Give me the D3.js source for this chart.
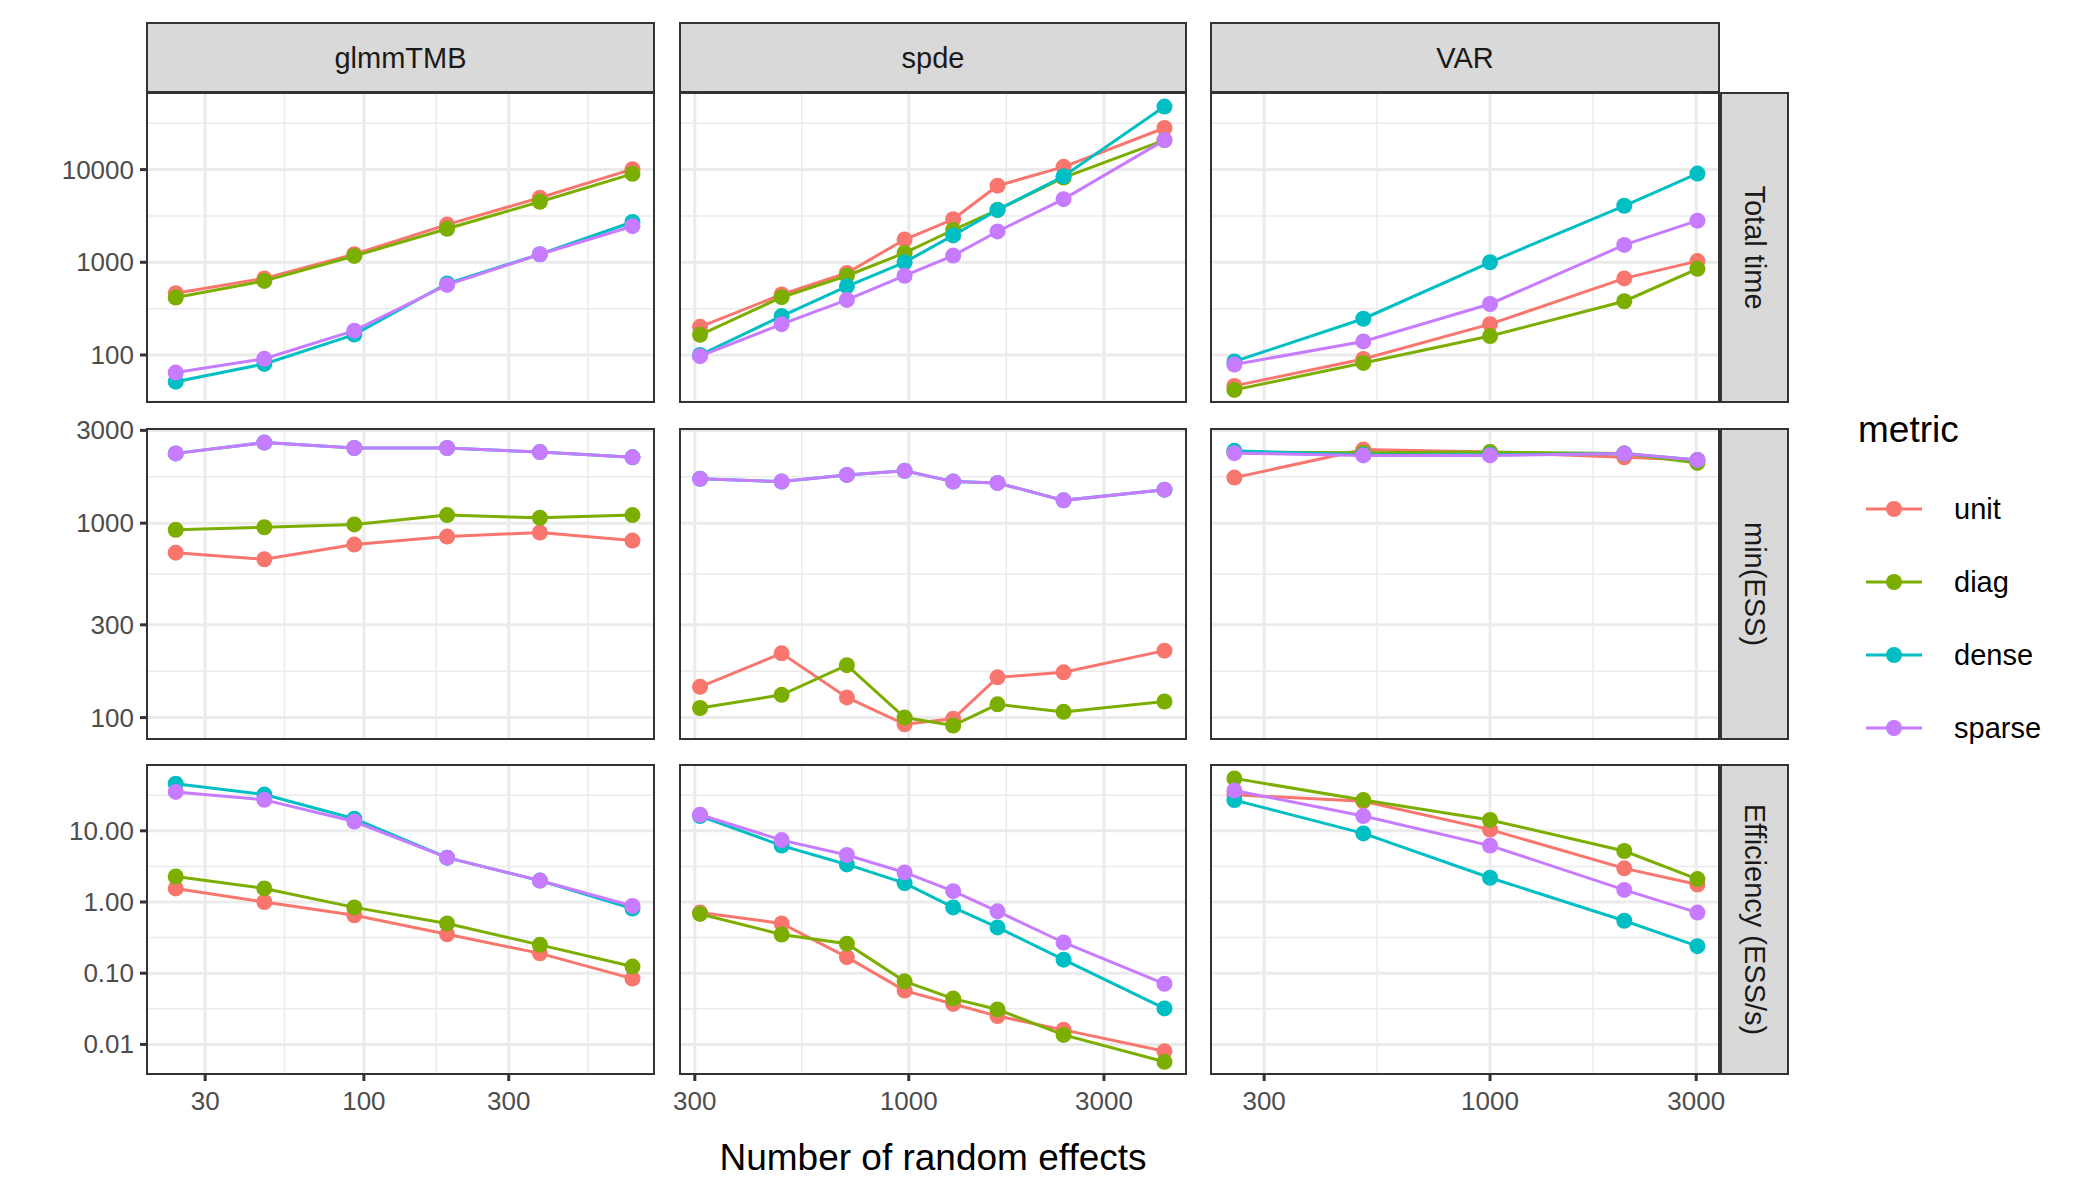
<!DOCTYPE html>
<html lang="en">
<head>
<meta charset="utf-8">
<title>Sampler comparison</title>
<script src="https://d3js.org/d3.v7.min.js"></script>
<style>
  body { margin: 0; background: #fff; }
  text { font-family: "Liberation Sans", Arial, sans-serif; }
</style>
</head>
<body>
<svg id="chart" width="2100" height="1200"></svg>
<script>
const models = ["glmmTMB", "spde", "VAR"];
const rows = ["Total time", "min(ESS)", "Efficiency (ESS/s)"];
const metrics = ["unit", "diag", "dense", "sparse"];
const colors = ["#F8766D", "#7CAE00", "#00BFC4", "#C77CFF"];

// number of random effects per model
const xGlmm = [24, 47, 93, 188, 380, 767];
const xSpde = [309, 489, 706, 977, 1284, 1648, 2390, 4217];
const xVar = [256, 509, 1000, 2045, 3020];

// Total time
const timeGlmm = {
  unit: [464, 670, 1220, 2550, 4960, 10100],
  diag: [417, 630, 1170, 2300, 4500, 9000],
  dense: [51.5, 80, 166, 590, 1220, 2720],
  sparse: [64.6, 91, 183, 570, 1220, 2450]
};
const timeSpde = {
  unit: [201, 449, 766, 1760, 2910, 6700, 10700, 28100],
  diag: [165, 420, 716, 1260, 2230, 3670, 8190, 20800],
  dense: [100, 263, 550, 1000, 1950, 3670, 8460, 47800],
  sparse: [97, 215, 393, 716, 1180, 2150, 4800, 20800]
};
const timeVar = {
  unit: [46.4, 90.5, 215, 670, 1030],
  diag: [42, 82, 160, 380, 850],
  dense: [85, 246, 1000, 4070, 9060],
  sparse: [79, 140, 355, 1540, 2810]
};

// min(ESS)
const essGlmm = {
  unit: [705, 652, 776, 853, 895, 814],
  diag: [924, 953, 985, 1100, 1065, 1100],
  dense: [2285, 2596, 2435, 2435, 2320, 2180],
  sparse: [2285, 2596, 2435, 2435, 2320, 2180]
};
const essSpde = {
  unit: [144, 214, 127, 92.4, 98.5, 161, 171, 221],
  diag: [112, 131, 186, 100, 91, 117, 107, 121],
  dense: [1690, 1636, 1771, 1858, 1636, 1610, 1310, 1487],
  sparse: [1690, 1636, 1771, 1858, 1636, 1610, 1310, 1487]
};
const essVar = {
  unit: [1715, 2390, 2320, 2180, 2110],
  diag: [2320, 2300, 2320, 2280, 2040],
  dense: [2355, 2250, 2250, 2280, 2110],
  sparse: [2290, 2230, 2230, 2280, 2110]
};

// Efficiency (ESS/s)
const effGlmm = {
  unit: [1.55, 1.0, 0.65, 0.352, 0.19, 0.084],
  diag: [2.28, 1.55, 0.84, 0.5, 0.25, 0.124],
  dense: [45.8, 32.3, 14.8, 4.2, 2.0, 0.81],
  sparse: [35.2, 27.2, 13.5, 4.2, 2.0, 0.88]
};
const effSpde = {
  unit: [0.71, 0.5, 0.168, 0.057, 0.037, 0.025, 0.016, 0.008],
  diag: [0.68, 0.35, 0.26, 0.077, 0.044, 0.031, 0.0136, 0.0057],
  dense: [16.1, 6.2, 3.37, 1.84, 0.84, 0.44, 0.155, 0.032],
  sparse: [16.8, 7.4, 4.57, 2.6, 1.42, 0.74, 0.27, 0.071]
};
const effVar = {
  unit: [32, 26, 10.4, 2.97, 1.76],
  diag: [54.5, 27, 14.2, 5.2, 2.1],
  dense: [27, 9.2, 2.19, 0.545, 0.24],
  sparse: [36.8, 16.1, 6.2, 1.48, 0.71]
};

const xValues = [xGlmm, xSpde, xVar];
const cells = [
  [timeGlmm, timeSpde, timeVar],
  [essGlmm, essSpde, essVar],
  [effGlmm, effSpde, effVar]
];

const xDomains = [[19.3, 903], [276, 4760], [226, 3388]];
const xBreaks = [[10, 30, 100, 300, 1000], [100, 300, 1000, 3000, 10000], [100, 300, 1000, 3000, 10000]];
const yDomains = [[31.1, 67000], [77.6, 3050], [0.00384, 84]];
const yBreaks = [[10, 100, 1000, 10000, 100000], [30, 100, 300, 1000, 3000, 10000], [0.001, 0.01, 0.1, 1, 10, 100]];
const yFormat = [d => String(d), d => String(d), d => d.toFixed(2)];

const colX = [[147, 654], [680, 1186], [1211, 1719]];
const rowY = [[93, 402], [429, 739], [765, 1074]];
const stripTop = 23, stripBot = 92, rStripL = 1721, rStripR = 1788;

const svg = d3.select("#chart");

function minors(br, dom) {
  const out = [];
  for (let i = 0; i < br.length - 1; i++) {
    out.push(Math.sqrt(br[i] * br[i + 1]));
  }
  return out.filter(v => v > dom[0] && v < dom[1]);
}

models.forEach((m, c) => {
  const x = d3.scaleLog().domain(xDomains[c]).range(colX[c]);
  // strip top
  svg.append("rect").attr("x", colX[c][0]).attr("y", stripTop)
    .attr("width", colX[c][1] - colX[c][0]).attr("height", stripBot - stripTop)
    .attr("fill", "#d9d9d9").attr("stroke", "#333").attr("stroke-width", 2);
  svg.append("text").attr("x", (colX[c][0] + colX[c][1]) / 2).attr("y", (stripTop + stripBot) / 2 + 10)
    .attr("text-anchor", "middle").attr("font-size", 29).attr("fill", "#1a1a1a").text(m);

  rows.forEach((r, ri) => {
    const y = d3.scaleLog().domain(yDomains[ri]).range([rowY[ri][1], rowY[ri][0]]);
    const g = svg.append("g");
    const xb = xBreaks[c].filter(v => v >= xDomains[c][0] && v <= xDomains[c][1]);
    const yb = yBreaks[ri].filter(v => v >= yDomains[ri][0] && v <= yDomains[ri][1]);
    g.append("rect").attr("x", colX[c][0]).attr("y", rowY[ri][0])
      .attr("width", colX[c][1] - colX[c][0]).attr("height", rowY[ri][1] - rowY[ri][0]).attr("fill", "#fff");
    minors(xBreaks[c], xDomains[c]).forEach(v => g.append("line")
      .attr("x1", x(v)).attr("x2", x(v)).attr("y1", rowY[ri][0]).attr("y2", rowY[ri][1])
      .attr("stroke", "#ebebeb").attr("stroke-width", 1.5));
    minors(yBreaks[ri], yDomains[ri]).forEach(v => g.append("line")
      .attr("y1", y(v)).attr("y2", y(v)).attr("x1", colX[c][0]).attr("x2", colX[c][1])
      .attr("stroke", "#ebebeb").attr("stroke-width", 1.5));
    xb.forEach(v => g.append("line")
      .attr("x1", x(v)).attr("x2", x(v)).attr("y1", rowY[ri][0]).attr("y2", rowY[ri][1])
      .attr("stroke", "#ebebeb").attr("stroke-width", 3));
    yb.forEach(v => g.append("line")
      .attr("y1", y(v)).attr("y2", y(v)).attr("x1", colX[c][0]).attr("x2", colX[c][1])
      .attr("stroke", "#ebebeb").attr("stroke-width", 3));

    const data = cells[ri][c];
    const line = d3.line().x((d, i) => x(xValues[c][i])).y(d => y(d));
    metrics.forEach((k, mi) => {
      g.append("path").attr("d", line(data[k])).attr("fill", "none")
        .attr("stroke", colors[mi]).attr("stroke-width", 3);
      g.selectAll(null).data(data[k]).enter().append("circle")
        .attr("cx", (d, i) => x(xValues[c][i])).attr("cy", d => y(d)).attr("r", 8)
        .attr("fill", colors[mi]);
    });
    g.append("rect").attr("x", colX[c][0]).attr("y", rowY[ri][0])
      .attr("width", colX[c][1] - colX[c][0]).attr("height", rowY[ri][1] - rowY[ri][0])
      .attr("fill", "none").attr("stroke", "#333").attr("stroke-width", 2);

    if (c === 0) {
      yb.forEach(v => {
        g.append("line").attr("x1", colX[0][0] - 7).attr("x2", colX[0][0]).attr("y1", y(v)).attr("y2", y(v))
          .attr("stroke", "#333").attr("stroke-width", 3);
        g.append("text").attr("x", colX[0][0] - 13).attr("y", y(v) + 9).attr("text-anchor", "end")
          .attr("font-size", 26).attr("fill", "#4d4d4d").text(yFormat[ri](v));
      });
    }
    if (ri === 2) {
      xb.forEach(v => {
        g.append("line").attr("x1", x(v)).attr("x2", x(v)).attr("y1", rowY[2][1]).attr("y2", rowY[2][1] + 7)
          .attr("stroke", "#333").attr("stroke-width", 3);
        g.append("text").attr("x", x(v)).attr("y", rowY[2][1] + 36).attr("text-anchor", "middle")
          .attr("font-size", 26).attr("fill", "#4d4d4d").text(v);
      });
    }
    if (c === 2) {
      svg.append("rect").attr("x", rStripL).attr("y", rowY[ri][0])
        .attr("width", rStripR - rStripL).attr("height", rowY[ri][1] - rowY[ri][0])
        .attr("fill", "#d9d9d9").attr("stroke", "#333").attr("stroke-width", 2);
      const cx = (rStripL + rStripR) / 2, cy = (rowY[ri][0] + rowY[ri][1]) / 2;
      svg.append("text").attr("transform", `translate(${cx - 10},${cy}) rotate(90)`)
        .attr("text-anchor", "middle").attr("font-size", 29).attr("fill", "#1a1a1a").text(r);
    }
  });
});

svg.append("text").attr("x", (colX[0][0] + colX[2][1]) / 2).attr("y", 1170)
  .attr("text-anchor", "middle").attr("font-size", 37).attr("fill", "#000").text("Number of random effects");

const leg = svg.append("g");
leg.append("text").attr("x", 1858).attr("y", 442).attr("font-size", 37).text("metric");
metrics.forEach((k, i) => {
  const ly = 509 + i * 73;
  leg.append("line").attr("x1", 1866).attr("x2", 1922).attr("y1", ly).attr("y2", ly)
    .attr("stroke", colors[i]).attr("stroke-width", 3);
  leg.append("circle").attr("cx", 1894).attr("cy", ly).attr("r", 8).attr("fill", colors[i]);
  leg.append("text").attr("x", 1954).attr("y", ly + 10).attr("font-size", 29).text(k);
});
</script>
</body>
</html>
